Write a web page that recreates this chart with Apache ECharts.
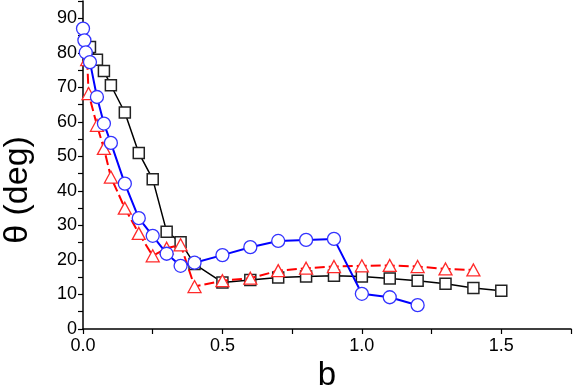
<!DOCTYPE html>
<html>
<head>
<meta charset="utf-8">
<script src="https://cdn.jsdelivr.net/npm/echarts@6/dist/echarts.min.js"></script>
<style>html,body{margin:0;padding:0;background:#fff}#c{width:574px;height:391px}</style>
</head>
<body>
<div id="c"></div>
<script>
var blackB = [0.025, 0.05, 0.075, 0.1, 0.15, 0.2, 0.25, 0.3, 0.35, 0.4, 0.5, 0.6, 0.7, 0.8, 0.9, 1.0, 1.1, 1.2, 1.3, 1.4, 1.5];
var blackV = [81.7, 78.0, 74.7, 70.6, 62.7, 51.0, 43.4, 28.2, 25.1, 18.8, 13.5, 14.2, 14.9, 15.2, 15.4, 15.2, 14.6, 14.0, 13.1, 11.9, 11.1];
var redB = [0.015, 0.02, 0.05, 0.075, 0.1, 0.15, 0.2, 0.25, 0.3, 0.35, 0.4, 0.5, 0.6, 0.7, 0.8, 0.9, 1.0, 1.1, 1.2, 1.3, 1.4];
var redV = [78, 68.2, 59.0, 52.3, 44.0, 35.0, 27.7, 21.2, 23.4, 24.4, 12.3, 14.0, 14.7, 16.9, 17.6, 18.1, 18.3, 18.4, 18.1, 17.4, 17.1];
var blueB = [0, 0.005, 0.01, 0.025, 0.05, 0.075, 0.1, 0.15, 0.2, 0.25, 0.3, 0.35, 0.4, 0.5, 0.6, 0.7, 0.8, 0.9, 1.0, 1.1, 1.2];
var blueV = [87.0, 83.6, 80.1, 77.3, 67.2, 59.5, 53.9, 42.1, 32.1, 27.0, 21.8, 18.3, 19.2, 21.4, 23.7, 25.5, 25.8, 26.1, 10.2, 9.2, 6.9];
var xTickLabels = ['0.0', '0.5', '1.0', '1.5'];
var yTickLabels = ['0', '10', '20', '30', '40', '50', '60', '70', '80', '90'];
var xTitle = 'b';
var yTitle = 'θ (deg)';

function pairs(b, v) { return b.map(function (x, i) { return [x, v[i]]; }); }

var chart = echarts.init(document.getElementById('c'), null, {renderer: 'canvas'});
var font = 'Liberation Sans, Arial, sans-serif';
chart.setOption({
  animation: false,
  backgroundColor: '#fff',
  grid: {left: 83, right: 3, top: 1, bottom: 62, containLabel: false, outerBoundsMode: 'none'},
  graphic: [{
    type: 'text', x: 18, y: 190, rotation: Math.PI / 2,
    style: {text: yTitle, font: '34px ' + font, fill: '#000', textAlign: 'center', textVerticalAlign: 'middle'}
  }],
  xAxis: {
    type: 'value', min: 0, max: 1.75, interval: 0.25,
    name: xTitle, nameLocation: 'middle', nameGap: 30,
    nameTextStyle: {fontFamily: font, fontSize: 33, color: '#000'},
    axisLine: {show: true, lineStyle: {color: '#000', width: 1.5}},
    axisTick: {show: true, inside: false, length: 5, lineStyle: {color: '#000', width: 1.2}},
    axisLabel: {
      fontFamily: font, fontSize: 18, color: '#000', margin: 8,
      formatter: function (v) {
        var idx = Math.round(v / 0.5);
        return Math.abs(v - idx * 0.5) < 1e-6 && idx < xTickLabels.length ? xTickLabels[idx] : '';
      }
    },
    splitLine: {show: false}
  },
  yAxis: {
    type: 'value', min: 0, max: 95, interval: 5,
    axisLine: {show: true, lineStyle: {color: '#000', width: 1.5}},
    axisTick: {show: true, inside: false, length: 5, lineStyle: {color: '#000', width: 1.2}},
    axisLabel: {
      fontFamily: font, fontSize: 18, color: '#000', margin: 6,
      formatter: function (v) {
        var idx = Math.round(v / 10);
        return Math.abs(v - idx * 10) < 1e-6 && idx < yTickLabels.length ? yTickLabels[idx] : '';
      }
    },
    splitLine: {show: false}
  },
  series: [
    {
      type: 'line', data: pairs(blackB, blackV), symbol: 'rect', symbolSize: 11,
      lineStyle: {color: '#000', width: 1.5},
      itemStyle: {color: '#fff', borderColor: '#222', borderWidth: 1.5},
      z: 3
    },
    {
      type: 'line', data: pairs(redB, redV), symbol: 'triangle', symbolSize: [13, 12],
      lineStyle: {color: '#ff0000', width: 2, type: [10, 4]},
      itemStyle: {color: '#fff', borderColor: '#ff2a2a', borderWidth: 1.3},
      z: 4
    },
    {
      type: 'line', data: pairs(blueB, blueV), symbol: 'circle', symbolSize: 13,
      lineStyle: {color: '#0000ff', width: 2},
      itemStyle: {color: '#fff', borderColor: '#3333ff', borderWidth: 1.3},
      z: 5
    }
  ]
});
</script>
</body>
</html>
